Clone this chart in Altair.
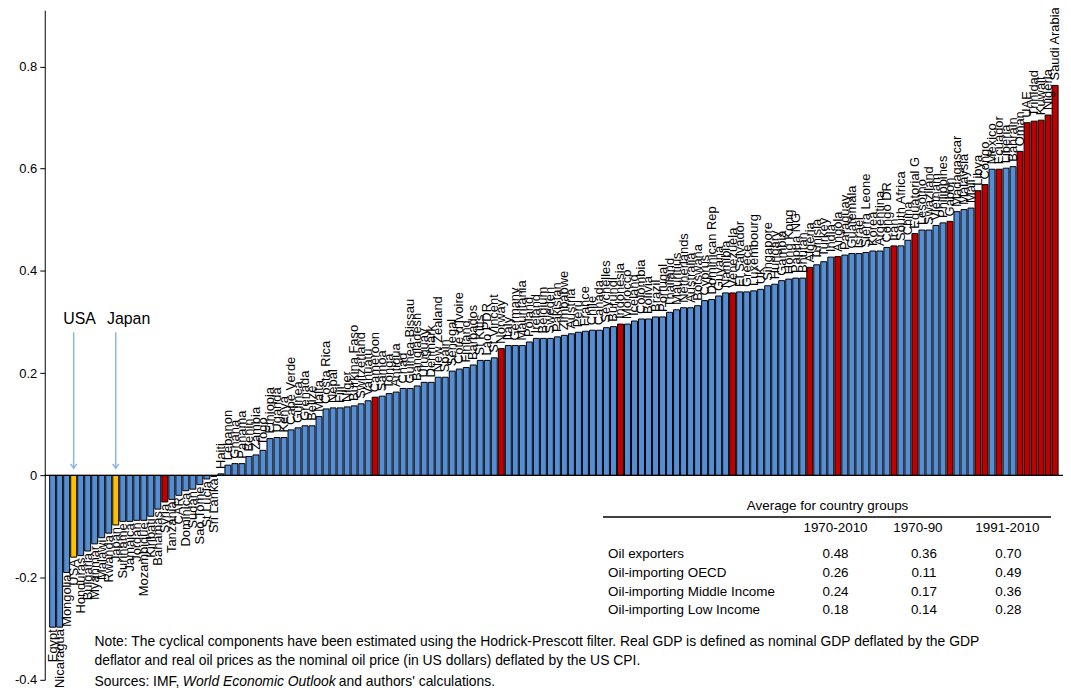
import altair as alt
import pandas as pd

countries = [
    "Egypt", "Nicaragua", "Mongolia", "USA", "Honduras", "Bulgaria", "Myanmar", "Malawi",
    "Rwanda", "Japan", "Suriname", "Jamaica", "Jordan", "Mozambique", "Kiribati", "Bahamas",
    "Syria", "Tanzania", "CAR", "Dominica", "Sudan", "Sao Tome", "St Lucia", "Sri Lanka",
    "Haiti", "Lebanon", "Ghana", "Panama", "Benin", "Zambia", "Togo", "Ethiopia",
    "Uganda", "Kenya", "Cape Verde", "Guinea", "Grenada", "Belize", "Malta", "Costa Rica",
    "Nepal", "Fiji", "Niger", "Burkina Faso", "Switzerland", "Vanuatu", "Cameroon", "Samoa",
    "Tonga", "Antigua", "Chad", "Guinea-Bissau", "Bangladesh", "Uruguay", "Denmark", "New Zealand",
    "Spain", "Senegal", "Cote d'Ivoire", "Finland", "Barbados", "St Kitts", "Lao PDR", "St Vincent",
    "Norway", "Italy", "Germany", "Mauritania", "Poland", "Ireland", "Belgium", "Sweden",
    "Pakistan", "Zimbabwe", "Austria", "Peru", "France", "Chile", "Canada", "Seychelles",
    "Burundi", "Indonesia", "Morocco", "Iceland", "Colombia", "Bolivia", "Brazil", "Portugal",
    "Thailand", "Mauritius", "Netherlands", "Australia", "Botswana", "Cyprus", "Dominican Rep", "Guyana",
    "Namibia", "Venezuela", "El Salvador", "Greece", "Luxembourg", "UK", "Singapore", "Hungary",
    "Gambia", "Hong Kong", "Papua NG", "Bhutan", "Algeria", "Tunisia", "Turkey", "India",
    "Angola", "Paraguay", "Guatemala", "Israel", "Sierra Leone", "Korea", "Argentina", "Congo DR",
    "Iran", "South Africa", "China", "Equatorial G", "Lesotho", "Swaziland", "Vietnam", "Philippines",
    "Gabon", "Madagascar", "Malaysia", "Mali", "Libya", "Congo", "Mexico", "Ecuador",
    "Liberia", "Bahrain", "Oman", "UAE", "Trinidad", "Kuwait", "Nigeria", "Saudi Arabia",
]

values = [
    -0.297, -0.297, -0.190, -0.160, -0.157, -0.148, -0.134, -0.122,
    -0.113, -0.097, -0.090, -0.090, -0.088, -0.088, -0.080, -0.066,
    -0.052, -0.047, -0.039, -0.030, -0.027, -0.018, -0.007, -0.002,
    0.003, 0.020, 0.023, 0.023, 0.037, 0.040, 0.049, 0.072,
    0.074, 0.074, 0.089, 0.093, 0.097, 0.097, 0.115, 0.130,
    0.132, 0.132, 0.134, 0.136, 0.140, 0.146, 0.153, 0.155,
    0.160, 0.163, 0.170, 0.170, 0.175, 0.182, 0.182, 0.192,
    0.192, 0.204, 0.208, 0.211, 0.216, 0.225, 0.225, 0.230,
    0.248, 0.254, 0.254, 0.254, 0.261, 0.268, 0.268, 0.268,
    0.271, 0.274, 0.277, 0.280, 0.282, 0.284, 0.284, 0.289,
    0.291, 0.296, 0.296, 0.302, 0.306, 0.306, 0.310, 0.310,
    0.319, 0.324, 0.328, 0.328, 0.332, 0.342, 0.344, 0.351,
    0.357, 0.357, 0.359, 0.359, 0.361, 0.364, 0.371, 0.374,
    0.381, 0.384, 0.386, 0.386, 0.407, 0.412, 0.418, 0.427,
    0.428, 0.431, 0.434, 0.434, 0.436, 0.439, 0.439, 0.446,
    0.449, 0.449, 0.460, 0.473, 0.480, 0.480, 0.489, 0.494,
    0.497, 0.516, 0.520, 0.523, 0.557, 0.569, 0.599, 0.599,
    0.601, 0.604, 0.634, 0.690, 0.693, 0.695, 0.705, 0.763,
]

oil_exporters = [
    "Syria", "Cameroon", "Norway", "Indonesia", "Venezuela", "Algeria", "Angola", "Iran",
    "Equatorial G", "Gabon", "Libya", "Congo", "Ecuador", "Oman", "UAE", "Trinidad",
    "Kuwait", "Nigeria", "Saudi Arabia",
]
highlighted = ["USA", "Japan"]

y_ticks = [-0.4, -0.2, 0, 0.2, 0.4, 0.6, 0.8]

table_title = "Average for country groups"
table_columns = ["1970-2010", "1970-90", "1991-2010"]
table_rows = ["Oil exporters", "Oil-importing OECD", "Oil-importing Middle Income", "Oil-importing Low Income"]
table_1970_2010 = ["0.48", "0.26", "0.24", "0.18"]
table_1970_90 = ["0.36", "0.11", "0.17", "0.14"]
table_1991_2010 = ["0.70", "0.49", "0.36", "0.28"]

note_lines = [
    "Note: The cyclical components have been estimated using the Hodrick-Prescott filter. Real GDP is defined as nominal GDP deflated by the GDP",
    "deflator and real oil prices as the nominal oil price (in US dollars) deflated by the US CPI.",
]
source_parts = ["Sources: IMF, ", "World Economic Outlook", " and authors' calculations."]

FONT = "Liberation Sans"
BLUE, RED, YELLOW = "#558ED5", "#C00000", "#FFC000"
ARROW = "#8EB4E3"

groups = ["oil" if c in oil_exporters else ("hl" if c in highlighted else "other") for c in countries]
df = pd.DataFrame({"country": countries, "value": values, "group": groups})

xenc = alt.X("country:N", sort=countries, axis=None,
             scale=alt.Scale(paddingInner=0.15, paddingOuter=0.7))
yscale = alt.Scale(domain=[-0.4, 0.91], nice=False, zero=False)
yaxis = alt.Axis(
    values=y_ticks, title=None, grid=False,
    labelExpr="datum.value == 0 ? '0' : (datum.value < 0 ? '-' + format(-datum.value, '.1f') : format(datum.value, '.1f'))",
    domainColor="black", tickColor="black", labelColor="black", labelFont=FONT,
    labelFontSize=13, tickSize=5, labelPadding=3, domainWidth=1, tickWidth=1,
    minExtent=32, maxExtent=32,
)

base = alt.Chart(df)

bars = base.mark_bar(stroke="black", strokeWidth=1).encode(
    x=xenc,
    y=alt.Y("value:Q", scale=yscale, axis=yaxis),
    y2=alt.datum(0),
    color=alt.Color("group:N", scale=alt.Scale(domain=["other", "oil", "hl"], range=[BLUE, RED, YELLOW]), legend=None),
)

zero_rule = alt.Chart(pd.DataFrame({"z": [0]})).mark_rule(color="black", strokeWidth=1.2).encode(y=alt.Y("z:Q", scale=yscale))

labels_pos = base.transform_filter("datum.value >= 0").mark_text(
    angle=270, align="left", baseline="middle", dx=5, fontSize=13, font=FONT, color="black"
).encode(x=xenc, y=alt.Y("value:Q", scale=yscale), text="country:N")

labels_neg = base.transform_filter("datum.value < 0").mark_text(
    angle=270, align="right", baseline="middle", dx=-2, fontSize=13, font=FONT, color="black"
).encode(x=xenc, y=alt.Y("value:Q", scale=yscale), text="country:N")

ann = pd.DataFrame({"country": highlighted, "top": [0.28, 0.28], "tip": [0.014, 0.014], "ty": [0.305, 0.305]})
arrows = alt.Chart(ann).mark_rule(color=ARROW, strokeWidth=1.5).encode(
    x=xenc, y=alt.Y("top:Q", scale=yscale), y2="tip:Q")
heads = alt.Chart(ann).mark_point(
    shape="M -1 -1.4 L 0 0 L 1 -1.4", filled=False, stroke=ARROW, strokeWidth=1.5, size=40, opacity=1
).encode(x=xenc, y=alt.Y("tip:Q", scale=yscale))
usa_txt = alt.Chart(ann).transform_filter("datum.country == 'USA'").mark_text(
    fontSize=16, font=FONT, color="black", dx=6).encode(x=xenc, y=alt.Y("ty:Q", scale=yscale), text="country:N")
jp_txt = alt.Chart(ann).transform_filter("datum.country == 'Japan'").mark_text(
    fontSize=16, font=FONT, color="black", dx=13).encode(x=xenc, y=alt.Y("ty:Q", scale=yscale), text="country:N")

one = pd.DataFrame({"k": [0]})


def txt(s, px, py, align="left", size=13.5, style="normal"):
    return alt.Chart(one).mark_text(
        text=s, align=align, baseline="middle", fontSize=size, font=FONT, color="black", fontStyle=style
    ).encode(x=alt.value(px), y=alt.value(py))


extras = []
extras.append(txt(table_title, 788, 499, align="center"))
extras.append(alt.Chart(one).mark_rule(color="#404040", strokeWidth=2).encode(
    x=alt.value(562), x2=alt.value(1013), y=alt.value(510)))
for h, cx in zip(table_columns, [796, 879, 969]):
    extras.append(txt(h, cx, 521, align="center"))
row_y = [547, 566, 586, 604]
for i, r in enumerate(table_rows):
    extras.append(txt(r, 567, row_y[i]))
    extras.append(txt(table_1970_2010[i], 796, row_y[i], align="center"))
    extras.append(txt(table_1970_90[i], 885, row_y[i], align="center"))
    extras.append(txt(table_1991_2010[i], 970, row_y[i], align="center"))

extras.append(txt(note_lines[0], 50, 636, size=14))
extras.append(txt(note_lines[1], 50, 655, size=14))
extras.append(txt(source_parts[0], 50, 676, size=14))
extras.append(txt(source_parts[1], 139, 676, size=14, style="italic"))
extras.append(txt(source_parts[2], 296, 676, size=14))

chart = alt.layer(
    bars, zero_rule, labels_pos, labels_neg, arrows, heads, usa_txt, jp_txt, *extras
).properties(
    width=1025, height=674,
    padding={"left": 37, "top": 0, "right": 0, "bottom": 14},
    autosize=alt.AutoSizeParams(type="none"),
).configure_view(stroke=None)

chart.save("out.html", embed_options={"renderer": "svg", "actions": False})
